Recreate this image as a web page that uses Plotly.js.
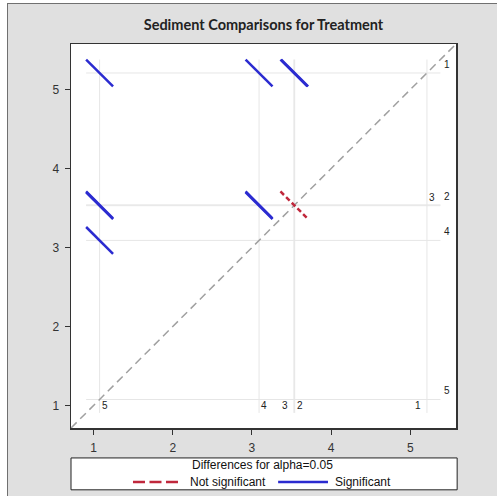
<!DOCTYPE html>
<html><head><meta charset="utf-8">
<script src="https://cdn.plot.ly/plotly-3.0.1.min.js"></script>
<style>
html,body{margin:0;padding:0;background:#fff;width:497px;height:496px;overflow:hidden}
#chart{position:absolute;left:7px;top:3px;width:490px;height:493px;border-left:1px solid #707070;border-top:1px solid #707070}
</style></head><body><div id="chart"></div>
<script>
// Treatment levels and their estimated means
const levels = ['1', '2', '3', '4', '5'];
const means  = [5.21, 3.54, 3.53, 3.09, 1.076];

// Pairwise comparisons: level on x (smaller mean), level on y (larger mean)
const pairX   = ['5', '5', '5', '5', '4', '4', '4', '3', '2', '3'];
const pairY   = ['1', '2', '3', '4', '1', '2', '3', '1', '1', '2'];
const pairHalf = [0.17, 0.17, 0.17, 0.17, 0.17, 0.17, 0.17, 0.17, 0.17, 0.17];
const pairSig = [true, true, true, true, true, true, true, true, true, false];

const legendTitle = 'Differences for alpha=0.05';
const legendNames = ['Not significant', 'Significant'];

const axisRange = [0.715, 5.577];

const RED = '#c0283c', BLUE = '#2b2bd0';
const meanOf = l => means[levels.indexOf(l)];
const refLo = Math.min(...means) - 0.17;
const refHi = Math.max(...means) + 0.17;

// reference lines
const refX = [], refY = [];
means.forEach(m => {
  refX.push(m, m, null, refLo, refHi, null);
  refY.push(refLo, refHi, null, m, m, null);
});

function segs(flag) {
  const xs = [], ys = [];
  pairX.forEach((a, i) => {
    if (pairSig[i] !== flag) return;
    const cx = meanOf(a), cy = meanOf(pairY[i]), h = pairHalf[i];
    xs.push(cx - h, cx + h, null);
    ys.push(cy + h, cy - h, null);
  });
  return {xs, ys};
}
const ns = segs(false), sg = segs(true);

const traces = [
  {x: refX, y: refY, mode: 'lines', line: {color: '#e6e6e6', width: 1}, showlegend: false, hoverinfo: 'skip'},
  {x: axisRange, y: axisRange, mode: 'lines', line: {color: '#a0a0a0', width: 1.5, dash: '8px,5px'}, showlegend: false, hoverinfo: 'skip'},
  {x: ns.xs, y: ns.ys, mode: 'lines', name: legendNames[0], line: {color: RED, width: 2.5, dash: '5px,3px'}},
  {x: sg.xs, y: sg.ys, mode: 'lines', name: legendNames[1], line: {color: BLUE, width: 2.5}}
];

// level labels
const bottomShift = {'1': -8.5, '2': 5, '3': -8.5, '4': 5.4, '5': 5.4};
const rightShift  = {'1': 6.3, '2': 6.3, '3': -8, '4': 6.3, '5': 6.3};
const annotations = [];
const lblFont = {family: 'Liberation Sans, Arial, sans-serif', size: 10, color: '#222'};
levels.forEach((l, i) => {
  annotations.push({x: means[i], y: refLo, xref: 'x', yref: 'y', text: l, showarrow: false,
    xshift: bottomShift[l], yshift: 7.5, font: lblFont});
  annotations.push({x: refHi, y: means[i], xref: 'x', yref: 'y', text: l, showarrow: false,
    xshift: rightShift[l], yshift: 8.5, font: lblFont});
});

// manual legend
const legFont = {family: 'Liberation Sans, Arial, sans-serif', size: 12, color: '#111'};
annotations.push({xref: 'paper', yref: 'paper', x: 0.4987, y: -0.0964, text: legendTitle, showarrow: false,
  xanchor: 'center', yanchor: 'middle', font: legFont});
annotations.push({xref: 'paper', yref: 'paper', x: 0.304, y: -0.1406, text: legendNames[0], showarrow: false,
  xanchor: 'left', yanchor: 'middle', font: legFont});
annotations.push({xref: 'paper', yref: 'paper', x: 0.6805, y: -0.1406, text: legendNames[1], showarrow: false,
  xanchor: 'left', yanchor: 'middle', font: legFont});

const axisCommon = {
  range: axisRange, dtick: 1, tick0: 1, showgrid: false, zeroline: false,
  showline: true, mirror: true, linecolor: '#333', linewidth: 1.5,
  ticks: 'outside', ticklen: 5, tickcolor: '#333', tickwidth: 1, ticklabelstandoff: 3,
  tickfont: {family: 'Liberation Sans, Arial, sans-serif', size: 12, color: '#333'}
};

const layout = {
  width: 489, height: 492,
  margin: {l: 63, r: 41, t: 40, b: 68},
  paper_bgcolor: '#e0e0e0', plot_bgcolor: '#ffffff',
  title: {text: '<b>Sediment Comparisons for Treatment</b>', font: {family: 'Lato, sans-serif', size: 14.5, color: '#222'},
    x: 0.5, xref: 'paper', y: 0.957, yref: 'container', yanchor: 'middle'},
  xaxis: Object.assign({}, axisCommon),
  yaxis: Object.assign({}, axisCommon),
  showlegend: false,
  shapes: [
    {type: 'rect', xref: 'paper', yref: 'paper', x0: 0, x1: 1.003, y0: -0.161, y1: -0.078,
      fillcolor: '#ffffff', line: {color: '#222', width: 1}, layer: 'above'},
    {type: 'line', xref: 'paper', yref: 'paper', x0: 0.161, x1: 0.278, y0: -0.1406, y1: -0.1406,
      line: {color: RED, width: 2.5, dash: '12px,4.5px'}, layer: 'above'},
    {type: 'line', xref: 'paper', yref: 'paper', x0: 0.538, x1: 0.6675, y0: -0.1406, y1: -0.1406,
      line: {color: BLUE, width: 2.5}, layer: 'above'}
  ],
  annotations: annotations
};

Plotly.newPlot('chart', traces, layout, {displayModeBar: false, staticPlot: true});
</script></body></html>
